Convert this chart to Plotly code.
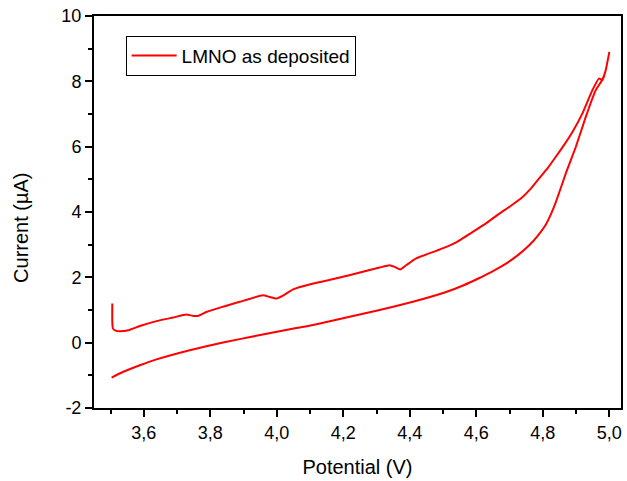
import plotly.graph_objects as go

# Forward (anodic) sweep: potential in V, current in µA
anodic_v = [3.505, 3.505, 3.507, 3.515, 3.528, 3.553, 3.588, 3.638, 3.688, 3.728,
            3.748, 3.763, 3.788, 3.838, 3.888, 3.958, 3.978, 3.998, 4.020, 4.049,
            4.109, 4.209, 4.309, 4.339, 4.354, 4.371, 4.389, 4.419, 4.479, 4.510,
            4.539, 4.589, 4.630, 4.669, 4.705, 4.739, 4.765, 4.789, 4.815, 4.839,
            4.865, 4.889, 4.919, 4.949, 4.969, 4.979, 4.989, 5.000]
anodic_i = [1.20, 0.64, 0.43, 0.37, 0.35, 0.38, 0.51, 0.66, 0.77, 0.86,
            0.82, 0.82, 0.94, 1.10, 1.25, 1.45, 1.40, 1.35, 1.45, 1.63,
            1.81, 2.04, 2.30, 2.37, 2.32, 2.24, 2.37, 2.58, 2.81, 2.93,
            3.07, 3.39, 3.66, 3.95, 4.20, 4.46, 4.73, 5.03, 5.35, 5.69,
            6.07, 6.45, 7.02, 7.73, 8.09, 8.03, 8.34, 8.90]

# Reverse (cathodic) sweep
cathodic_v = [4.989, 4.979, 4.959, 4.929, 4.899, 4.869, 4.839, 4.825, 4.809, 4.785,
              4.759, 4.725, 4.689, 4.650, 4.609, 4.560, 4.509, 4.409, 4.309, 4.209,
              4.109, 4.039, 3.938, 3.838, 3.738, 3.638, 3.588, 3.538, 3.503]
cathodic_i = [8.34, 8.05, 7.73, 6.91, 5.99, 5.18, 4.30, 3.95, 3.62, 3.28,
              2.98, 2.68, 2.42, 2.19, 1.98, 1.75, 1.55, 1.25, 1.00, 0.77,
              0.54, 0.41, 0.21, 0.006, -0.23, -0.51, -0.69, -0.89, -1.07]

x_ticks = [3.6, 3.8, 4.0, 4.2, 4.4, 4.6, 4.8, 5.0]
y_ticks = [-2, 0, 2, 4, 6, 8, 10]
y_tick_text = ["-2", "0", "2", "4", "6", "8", "10"]

FONT = "Liberation Sans, Arial, sans-serif"

fig = go.Figure()
fig.add_trace(go.Scatter(
    x=anodic_v + cathodic_v,
    y=anodic_i + cathodic_i,
    mode="lines",
    name="LMNO as deposited",
    line=dict(color="#ff0000", width=2, shape="spline", smoothing=0.4),
))

axis_common = dict(
    showline=True, linecolor="black", linewidth=2, mirror=True,
    showgrid=False, zeroline=False,
    ticks="outside", ticklen=7, tickwidth=2, tickcolor="black",
    tickfont=dict(family=FONT, size=18, color="black"),
)

fig.update_xaxes(
    range=[3.45, 5.035],
    tickvals=x_ticks, tickformat=".1f",
    minor=dict(dtick=0.1, tick0=3.5, ticks="outside", ticklen=4, tickwidth=2, tickcolor="black"),
    title=dict(text="Potential (V)", font=dict(family=FONT, size=20, color="black"), standoff=18),
    **axis_common,
)
fig.update_yaxes(
    range=[-2, 10],
    tickvals=y_ticks, ticktext=y_tick_text,
    minor=dict(dtick=1, tick0=-1, ticks="outside", ticklen=4, tickwidth=2, tickcolor="black"),
    **axis_common,
)

# Y-axis title placed as a rotated annotation, sitting a little below centre
fig.add_annotation(
    text="Current (µA)", textangle=-90,
    xref="paper", yref="paper", x=-0.140, y=0.46,
    xanchor="center", yanchor="middle", showarrow=False,
    font=dict(family=FONT, size=20, color="black"),
)

fig.update_layout(
    width=627, height=481,
    margin=dict(l=94, r=4, t=16, b=73),
    paper_bgcolor="white", plot_bgcolor="white",
    separators=",.",
    font=dict(family=FONT, size=18, color="black"),
    showlegend=True,
    legend=dict(
        x=0.06, y=0.95, xanchor="left", yanchor="top",
        bgcolor="white", bordercolor="black", borderwidth=1,
        font=dict(family=FONT, size=19, color="black"),
        tracegroupgap=0, itemwidth=45,
    ),
)

fig.write_html("out.html")
